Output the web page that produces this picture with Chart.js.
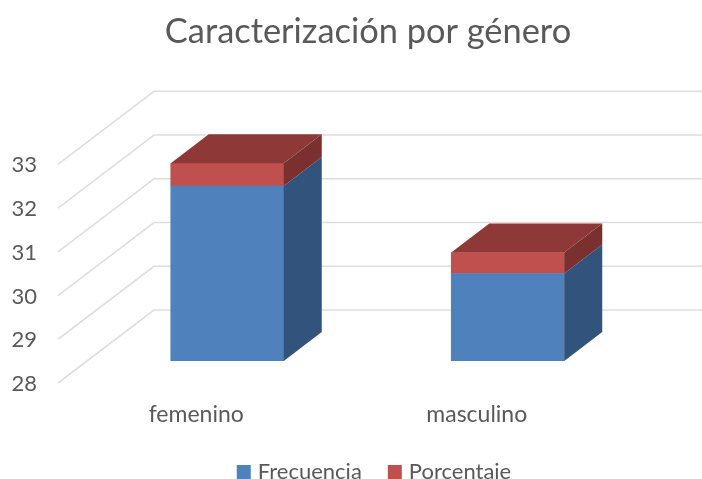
<!DOCTYPE html>
<html>
<head>
<meta charset="utf-8">
<title>Caracterización por género</title>
<script src="https://cdn.jsdelivr.net/npm/chart.js@4"></script>
<style>
  html, body { margin:0; padding:0; background:#fff; overflow:hidden; width:702px; height:479px; }
  canvas { display:block; }
</style>
</head>
<body>
<canvas id="chart" width="736" height="493"></canvas>
<script>
/* ---------- Data ---------- */
const categories = ['femenino', 'masculino'];
const frecuencia = [32, 30];
const porcentaje = [0.52, 0.48];

const FONT = 'Lato, "Open Sans", sans-serif';
const TEXT = '#595959';

/* ---------- Fake 3D: floor/wall lines and bar depth ---------- */
const wall = { frontX:-29, frontY:22, backX:67, backY:-51 };
const depth = { x:38, y:-29 };

function quad(ctx, pts, color){
  ctx.beginPath();
  pts.forEach((p, i) => i ? ctx.lineTo(p[0], p[1]) : ctx.moveTo(p[0], p[1]));
  ctx.closePath();
  ctx.fillStyle = color;
  ctx.fill();
}

const shade = [
  { side:'#31537C', top:'#3A6190' },
  { side:'#7A302E', top:'#8E3937' }
];

const fake3d = {
  id:'fake3d',
  afterLayout(chart){
    // title and legend are not centred on the plot in the original
    chart.titleBlock.left += 44;
    chart.titleBlock.right += 44;
    chart.legend.left += 52;
    chart.legend.right += 52;
  },
  beforeDatasetsDraw(chart){
    const { ctx, scales:{ y }, width } = chart;
    ctx.save();
    ctx.strokeStyle = '#DEDEDE';
    ctx.lineWidth = 1.6;
    y.ticks.forEach(t => {
      const py = y.getPixelForValue(t.value);
      ctx.beginPath();
      ctx.moveTo(y.right + wall.frontX, py + wall.frontY);
      ctx.lineTo(y.right + wall.backX, py + wall.backY);
      ctx.lineTo(width, py + wall.backY);
      ctx.stroke();
    });
    ctx.restore();
  },
  afterDatasetsDraw(chart){
    const { ctx, scales:{ y } } = chart;
    ctx.save();
    chart.data.datasets.forEach((ds, i) => {
      chart.getDatasetMeta(i).data.forEach(bar => {
        const left = bar.x - bar.width / 2, right = bar.x + bar.width / 2;
        const base = Math.min(bar.base, y.bottom);
        quad(ctx, [[right, bar.y], [right + depth.x, bar.y + depth.y],
                   [right + depth.x, base + depth.y], [right, base]], shade[i].side);
        if(i === chart.data.datasets.length - 1){
          quad(ctx, [[left, bar.y], [left + depth.x, bar.y + depth.y],
                     [right + depth.x, bar.y + depth.y], [right, bar.y]], shade[i].top);
        }
      });
    });
    ctx.restore();
  }
};

/* ---------- Chart ---------- */
new Chart(document.getElementById('chart'), {
  type:'bar',
  data:{
    labels: categories,
    datasets:[
      { label:'Frecuencia', data: frecuencia, backgroundColor:'#4F81BD', barThickness:113 },
      { label:'Porcentaje', data: porcentaje, backgroundColor:'#C0504D', barThickness:113 }
    ]
  },
  plugins:[fake3d],
  options:{
    responsive:false,
    animation:false,
    layout:{ padding:{ left:0, right:88, top:0, bottom:0 } },
    plugins:{
      tooltip:{ enabled:false },
      title:{
        display:true,
        text:'Caracterización por género',
        color:TEXT,
        font:{ family:FONT, size:34.4, weight:'normal' },
        padding:{ top:11, bottom:90 },
        fullSize:true
      },
      legend:{
        position:'bottom',
        fullSize:true,
        labels:{
          color:TEXT,
          font:{ family:FONT, size:22 },
          boxWidth:6,
          boxHeight:6,
          padding:30,
          // thick stroke gives a 14px swatch with the tighter gap to the text
          generateLabels(chart){
            return Chart.defaults.plugins.legend.labels.generateLabels(chart).map(l =>
              Object.assign(l, { lineWidth:8, strokeStyle:l.fillStyle }));
          }
        }
      }
    },
    scales:{
      x:{
        stacked:true,
        grid:{ display:false },
        border:{ display:false },
        afterFit(s){ s.height = 70; },
        ticks:{ color:TEXT, font:{ family:FONT, size:23 }, padding:32, labelOffset:-31, maxRotation:0 }
      },
      y:{
        stacked:true,
        min:28,
        max:33,
        grid:{ display:false },
        border:{ display:false },
        afterFit(s){ s.width = 87; },
        ticks:{ stepSize:1, color:TEXT, font:{ family:FONT, size:22 }, padding:42, labelOffset:23 }
      }
    }
  }
});
</script>
</body>
</html>
